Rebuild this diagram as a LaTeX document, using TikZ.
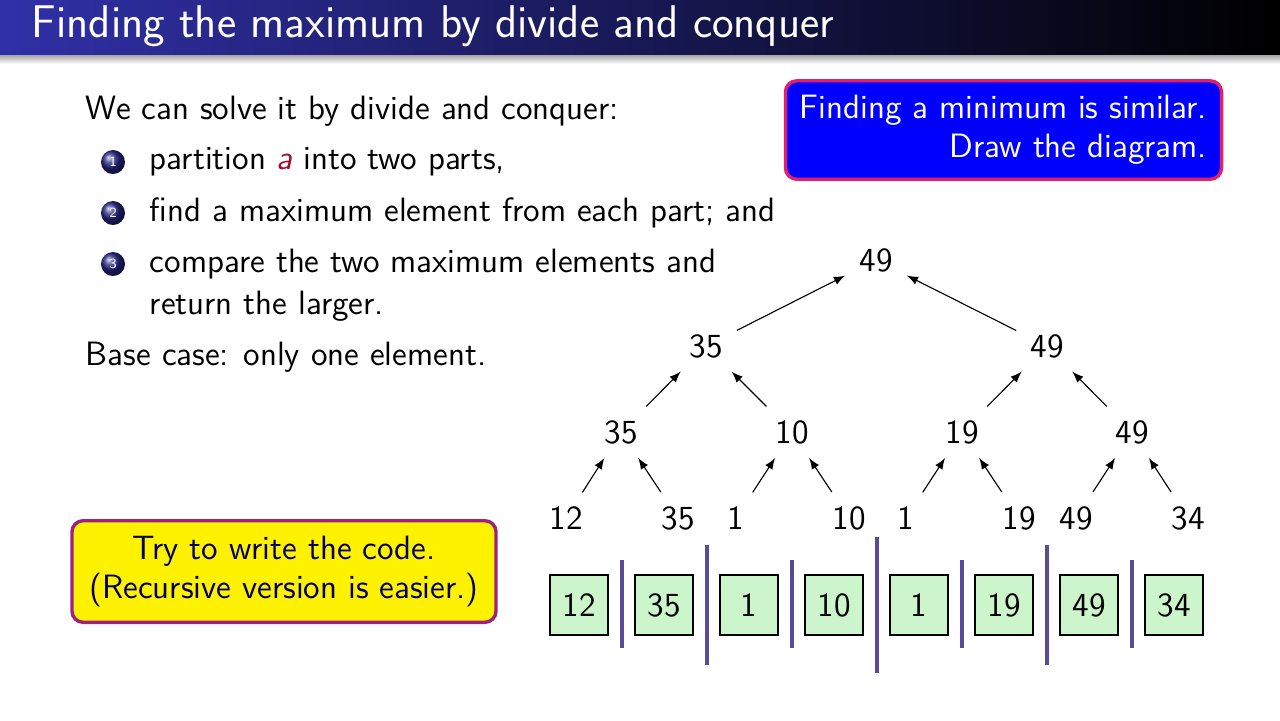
\documentclass[tikz,border=0pt]{standalone}
\usepackage{xcolor}
\usetikzlibrary{arrows,shadings,calc}
\definecolor{titleblue}{HTML}{3030A8}
\definecolor{sepcolor}{HTML}{5A4A9A}
\definecolor{boxgreen}{HTML}{CCF5CC}
\definecolor{edgered}{HTML}{E0206F}
\definecolor{edgepurple}{HTML}{A0207F}
\definecolor{darkred}{HTML}{A01030}
\begin{document}
\begin{tikzpicture}[x=0.0125cm,y=-0.0125cm,font=\sffamily\large,
  val/.style={inner sep=4pt},
  cell/.style={draw,thick,fill=boxgreen,minimum width=0.72cm,minimum height=0.75cm,inner sep=0pt},
  up/.style={-latex,thin,shorten <=1pt,shorten >=1pt},
  sep/.style={sepcolor,line width=1.2pt},
  ball/.style={circle,ball color=titleblue!80!black,text=white,inner sep=0pt,minimum size=0.3cm,font=\sffamily\tiny}]
\useasboundingbox (0,0) rectangle (1280,720);
% title bar
\shade[left color=titleblue,right color=black] (0,0) rectangle (1280,55);
\shade[top color=black!35,bottom color=white] (0,55) rectangle (1280,64);
\node[anchor=west,text=white,font=\sffamily\fontsize{16.3}{19}\selectfont] (title) at (22,26) {Finding the maximum by divide and conquer};
% text
\node[anchor=west] (intro) at (76,111) {We can solve it by divide and conquer:};
\node[ball] (b1) at (113,162) {1};
\node[ball] (b2) at (113,213) {2};
\node[ball] (b3) at (113,264) {3};
\node[anchor=west] (i1) at (140,162) {partition \textcolor{darkred}{\itshape a} into two parts,};
\node[anchor=west] (i2) at (140,213) {find a maximum element from each part; and};
\node[anchor=west] (i3) at (140,264) {compare the two maximum elements and};
\node[anchor=west] (i3b) at (140,306) {return the larger.};
\node[anchor=west] (base) at (76,357) {Base case: only one element.};
% boxes
\node[draw=edgered,line width=1.2pt,fill=blue,rounded corners=4pt,text=white,align=right,
  minimum width=5.45cm,minimum height=1.23cm] (hint) at (1003.5,130) {Finding a minimum is similar.\\Draw the diagram.};
\node[draw=edgepurple,line width=1.2pt,fill=yellow,rounded corners=4pt,text=blue!40!black,align=center,
  minimum width=5.3cm,minimum height=1.27cm] (try) at (284,571.5) {Try to write the code.\\(Recursive version is easier.)};
% array
\foreach \v [count=\i] in {12,35,1,10,1,19,49,34}
  \node[cell] (c\i) at (494+85*\i,605) {\v};
\foreach \x in {622,792,962,1132} \draw[sep] (\x,560) -- (\x,648);
\foreach \x in {707,1047} \draw[sep] (\x,545) -- (\x,665);
\draw[sep] (877,537) -- (877,673);
% tree
\node[val] (l1) at (566,518) {12};
\node[val] (l2) at (678,518) {35};
\node[val] (l3) at (736,518) {1};
\node[val] (l4) at (849,518) {10};
\node[val] (l5) at (906,518) {1};
\node[val] (l6) at (1019,518) {19};
\node[val] (l7) at (1076,518) {49};
\node[val] (l8) at (1188,518) {34};
\node[val] (m1) at (621,432) {35};
\node[val] (m2) at (792,432) {10};
\node[val] (m3) at (962,432) {19};
\node[val] (m4) at (1132,432) {49};
\node[val] (n1) at (706,346) {35};
\node[val] (n2) at (1047,346) {49};
\node[val] (r) at (876,260) {49};
\foreach \a/\b in {l1/m1,l2/m1,l3/m2,l4/m2,l5/m3,l6/m3,l7/m4,l8/m4,m1/n1,m2/n1,m3/n2,m4/n2,n1/r,n2/r}
  \draw[up] (\a) -- (\b);
\end{tikzpicture}
\end{document}
